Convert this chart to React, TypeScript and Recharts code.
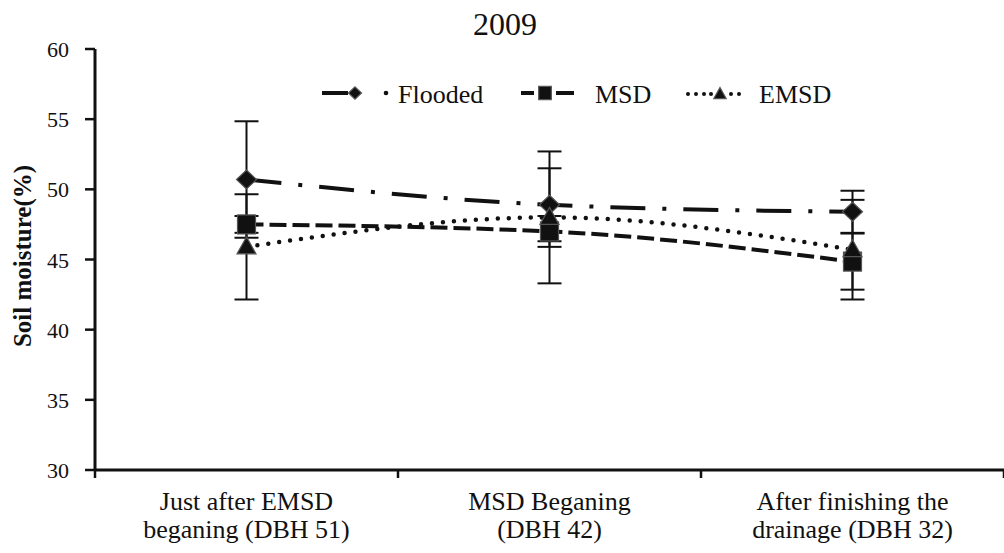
import React from "react";
import { LineChart, Line, XAxis, YAxis, ErrorBar } from "recharts";

// Sampling stages (two-line tick labels)
const categories: string[][] = [
  ["Just after EMSD", "beganing (DBH 51)"],
  ["MSD Beganing", "(DBH 42)"],
  ["After finishing the", "drainage (DBH 32)"],
];

// Soil moisture (%) means and error (±)
const flooded = [50.7, 48.9, 48.4];
const floodedErr = [4.15, 2.6, 1.5];
const msd = [47.5, 47.0, 44.85];
const msdErr = [0.6, 1.1, 2.0];
const emsd = [45.9, 48.0, 45.7];
const emsdErr = [3.75, 4.7, 3.55];

const yTicks = [30, 35, 40, 45, 50, 55, 60];
const title = "2009";
const yLabel = "Soil moisture(%)";
const seriesNames = ["Flooded", "MSD", "EMSD"];

const FONT = "Liberation Serif, Times New Roman, DejaVu Serif, serif";
const INK = "#111";
const fontStyle = { fontFamily: FONT };

// Category i sits in the middle of band [i, i+1]
const data = categories.map((_, i) => ({
  x: i + 0.5,
  flooded: flooded[i],
  floodedErr: floodedErr[i],
  msd: msd[i],
  msdErr: msdErr[i],
  emsd: emsd[i],
  emsdErr: emsdErr[i],
}));

const xTicks = [0, 0.5, 1, 1.5, 2, 2.5, 3];

const Diamond = ({ cx, cy, s = 1 }: any) => (
  <polygon
    points={`${cx},${cy - 9.5 * s} ${cx + 10 * s},${cy} ${cx},${cy + 9.5 * s} ${cx - 10 * s},${cy}`}
    fill={INK}
    stroke="#555"
    strokeWidth={1.2}
  />
);

const Square = ({ cx, cy, s = 1 }: any) => (
  <rect
    x={cx - 9 * s}
    y={cy - 9.5 * s}
    width={18 * s}
    height={19 * s}
    fill={INK}
    stroke="#555"
    strokeWidth={1.2}
  />
);

const Triangle = ({ cx, cy, s = 1 }: any) => (
  <polygon
    points={`${cx},${cy - 10 * s} ${cx + 9.5 * s},${cy + 7 * s} ${cx - 9.5 * s},${cy + 7 * s}`}
    fill={INK}
    stroke="#555"
    strokeWidth={1.2}
  />
);

// Bottom axis: band boundaries get a tick mark, band centres get the label
const XTick = ({ x, y, payload }: any) => {
  const v = payload.value as number;
  if (Number.isInteger(v)) {
    return <line x1={x} x2={x} y1={y} y2={y + 8} stroke={INK} strokeWidth={2.5} />;
  }
  const lines = categories[Math.floor(v)];
  return (
    <text x={x} y={y} textAnchor="middle" style={fontStyle} fontSize={26} fill={INK}>
      {lines.map((t, k) => (
        <tspan key={k} x={x} y={y + 40 + k * 28}>
          {t}
        </tspan>
      ))}
    </text>
  );
};

const YTick = ({ x, y, payload }: any) => (
  <text x={x} y={y + 8} textAnchor="end" style={fontStyle} fontSize={22} fill={INK}>
    {payload.value}
  </text>
);

const Overlay = () => (
  <svg
    width={1004}
    height={553}
    style={{ position: "absolute", left: 0, top: 0, pointerEvents: "none" }}
  >
    <text x={505} y={35} textAnchor="middle" style={fontStyle} fontSize={32} fill={INK}>
      {title}
    </text>
    <text
      x={0}
      y={0}
      transform="translate(22,256) rotate(-90)"
      textAnchor="middle"
      dominantBaseline="central"
      style={fontStyle}
      fontWeight="bold"
      fontSize={25}
      fill={INK}
    >
      {yLabel}
    </text>

    {/* Flooded */}
    <line x1={322} x2={348} y1={93} y2={93} stroke={INK} strokeWidth={4} />
    <Diamond cx={355} cy={93} s={0.65} />
    <circle cx={386} cy={93} r={2.3} fill={INK} />
    <text x={398} y={103} style={fontStyle} fontSize={26} fill={INK}>
      {seriesNames[0]}
    </text>

    {/* MSD */}
    <line x1={521} x2={534} y1={93} y2={93} stroke={INK} strokeWidth={4} />
    <Square cx={545} cy={93} s={0.7} />
    <line x1={556} x2={574} y1={93} y2={93} stroke={INK} strokeWidth={4} />
    <text x={595} y={103} style={fontStyle} fontSize={26} fill={INK}>
      {seriesNames[1]}
    </text>

    {/* EMSD */}
    {[688, 696, 704, 711].map((cx) => (
      <circle key={cx} cx={cx} cy={94} r={2} fill={INK} />
    ))}
    <Triangle cx={720} cy={94} s={0.65} />
    {[731, 739].map((cx) => (
      <circle key={cx} cx={cx} cy={94} r={2} fill={INK} />
    ))}
    <text x={759} y={103} style={fontStyle} fontSize={26} fill={INK}>
      {seriesNames[2]}
    </text>
  </svg>
);

export default function App() {
  return (
    <div
      style={{
        position: "absolute",
        left: 0,
        top: 0,
        width: 1004,
        height: 553,
        background: "#fff",
      }}
    >
      <LineChart
        width={1004}
        height={553}
        data={data}
        margin={{ top: 49, right: 0, bottom: 0, left: 0 }}
      >
        <XAxis
          type="number"
          dataKey="x"
          domain={[0, 3]}
          ticks={xTicks}
          interval={0}
          height={83}
          tickSize={0}
          tickMargin={0}
          tickLine={false}
          tick={<XTick />}
          axisLine={{ stroke: INK, strokeWidth: 3 }}
        />
        <YAxis
          type="number"
          domain={[30, 60]}
          ticks={yTicks}
          interval={0}
          width={95}
          tickSize={10}
          tickMargin={16}
          tick={<YTick />}
          tickLine={{ stroke: INK, strokeWidth: 2.5 }}
          axisLine={{ stroke: INK, strokeWidth: 3 }}
        />

        {/* Curves with error bars */}
        <Line
          dataKey="flooded"
          type="monotone"
          stroke={INK}
          strokeWidth={4}
          strokeDasharray="35 17 4 17"
          dot={false}
          activeDot={false}
          isAnimationActive={false}
        >
          <ErrorBar dataKey="floodedErr" direction="y" width={12} stroke={INK} strokeWidth={2} />
        </Line>
        <Line
          dataKey="msd"
          type="monotone"
          stroke={INK}
          strokeWidth={4}
          strokeDasharray="17 6"
          dot={false}
          activeDot={false}
          isAnimationActive={false}
        >
          <ErrorBar dataKey="msdErr" direction="y" width={12} stroke={INK} strokeWidth={2} />
        </Line>
        <Line
          dataKey="emsd"
          type="monotone"
          stroke={INK}
          strokeWidth={4.5}
          strokeLinecap="round"
          strokeDasharray="0 11"
          dot={false}
          activeDot={false}
          isAnimationActive={false}
        >
          <ErrorBar dataKey="emsdErr" direction="y" width={12} stroke={INK} strokeWidth={2} />
        </Line>

        {/* Markers on top of every error bar */}
        <Line
          dataKey="flooded"
          stroke="none"
          dot={(p: any) => <Diamond key={`f${p.index}`} cx={p.cx} cy={p.cy} />}
          activeDot={false}
          legendType="none"
          isAnimationActive={false}
        />
        <Line
          dataKey="msd"
          stroke="none"
          dot={(p: any) => <Square key={`m${p.index}`} cx={p.cx} cy={p.cy} />}
          activeDot={false}
          legendType="none"
          isAnimationActive={false}
        />
        <Line
          dataKey="emsd"
          stroke="none"
          dot={(p: any) => <Triangle key={`e${p.index}`} cx={p.cx} cy={p.cy} />}
          activeDot={false}
          legendType="none"
          isAnimationActive={false}
        />
      </LineChart>
      <Overlay />
    </div>
  );
}
